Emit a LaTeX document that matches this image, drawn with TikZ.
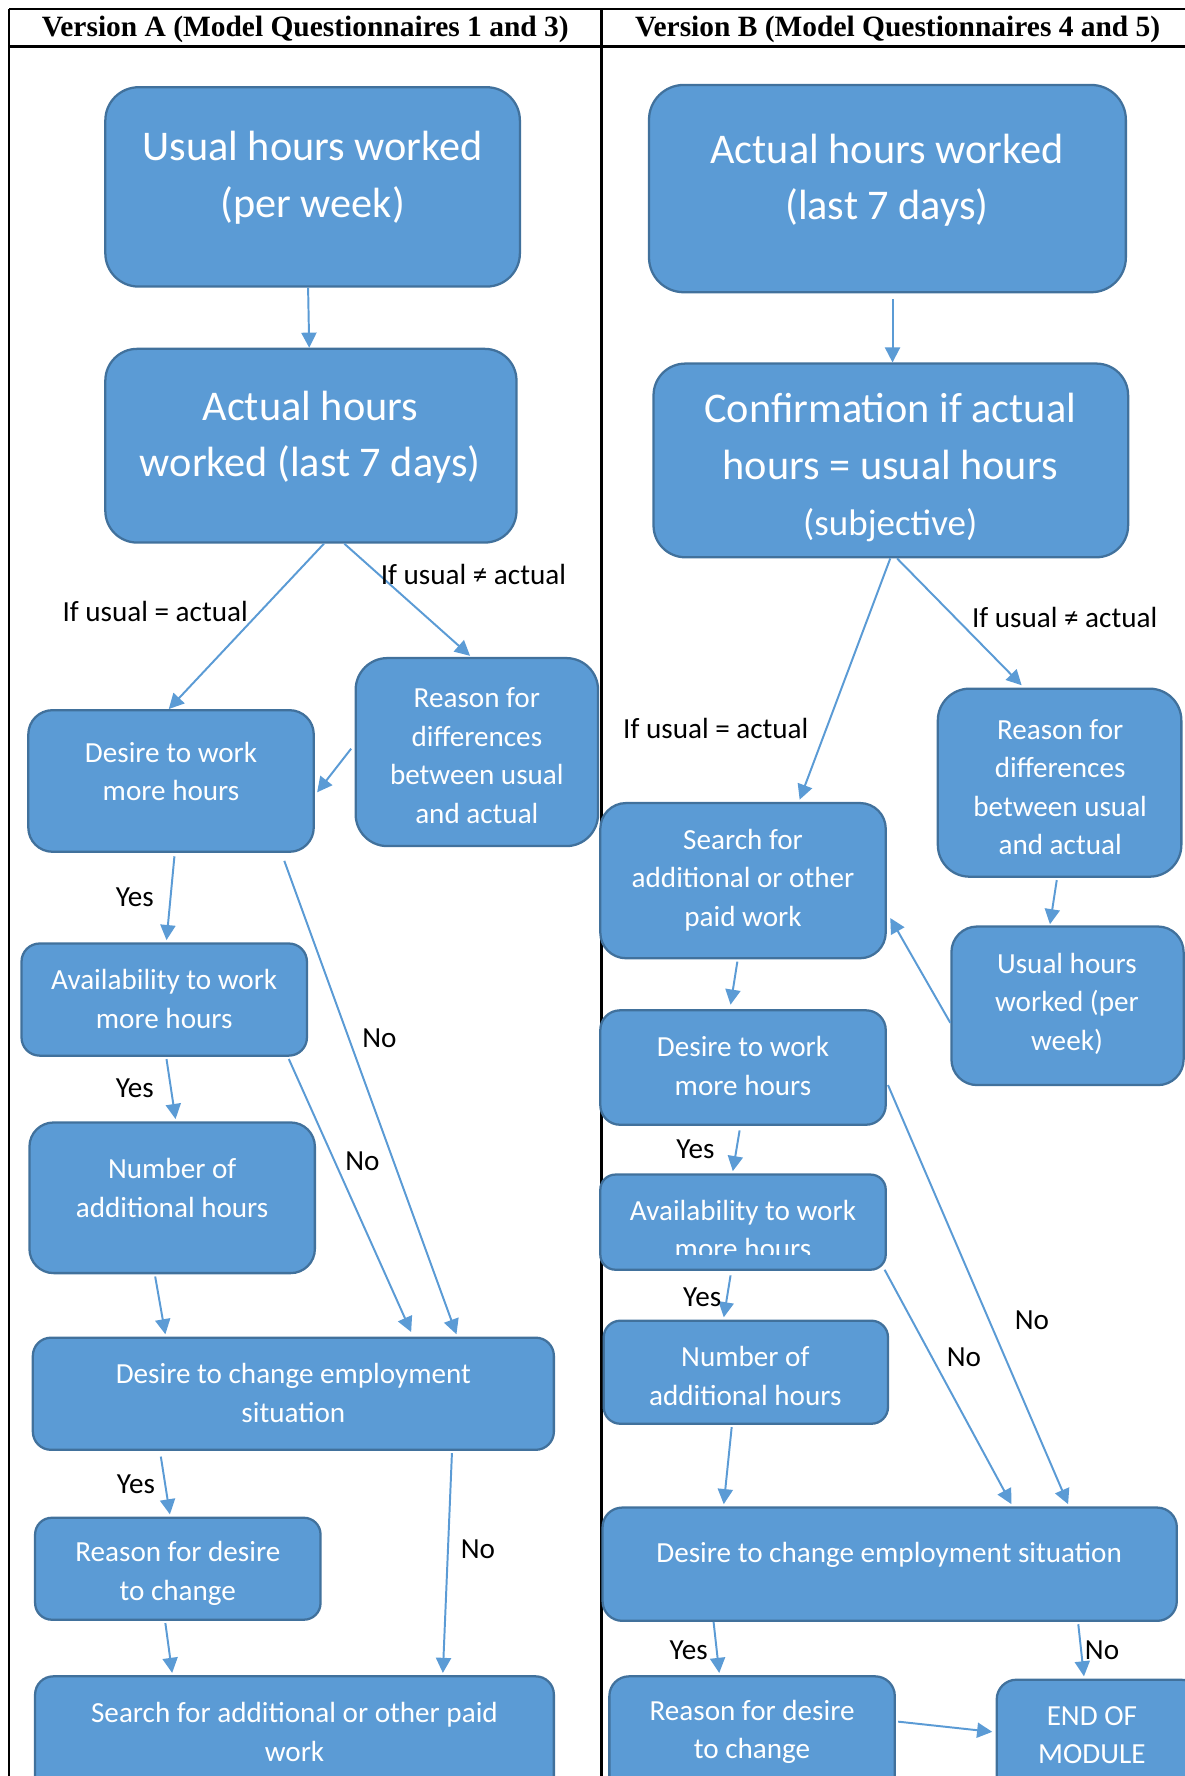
\documentclass[tikz,border=0pt]{standalone}
\usepackage{fontspec}
\setmainfont{Carlito}
\newfontfamily\hdrfont{Liberation Serif}
\usetikzlibrary{arrows.meta,fit,calc}
\definecolor{boxfill}{HTML}{5B9BD5}
\definecolor{boxedge}{HTML}{41719C}
\definecolor{arrowc}{HTML}{5B9BD5}
\newcommand{\bigtxt}{\fontsize{28}{37.5}\selectfont}
\newcommand{\subtxt}{\fontsize{24.5}{35}\selectfont}
\newcommand{\smtxt}{\fontsize{19.3}{25.5}\selectfont}
\newcommand{\lbltxt}{\fontsize{19.3}{23}\selectfont}
\newcommand{\hdrtxt}{\hdrfont\bfseries\fontsize{19.5}{23}\selectfont}
\begin{document}
\begin{tikzpicture}[x=0.75pt,y=-0.75pt,
  box/.style={draw=boxedge, fill=boxfill, line width=1.5pt, inner sep=0pt},
  wt/.style={text=white, align=center, inner sep=0pt},
  bigt/.style={wt, font=\bigtxt},
  smt/.style={wt, font=\smtxt},
  lbl/.style={text=black, inner sep=0pt, font=\lbltxt},
  hdr/.style={text=black, inner sep=0pt, font=\hdrtxt},
  arr/.style={draw=arrowc, line width=1.3pt, -{Triangle[length=10pt,width=10pt]}},
  frame/.style={draw=black, line width=1.6pt}
]
\useasboundingbox (0,0) rectangle (1046,1568);

% ---------- table frame ----------
\coordinate (tl) at (8,8);
\coordinate (tr) at (1060,8);
\coordinate (hl) at (8,41);
\coordinate (hr) at (1060,41);
\coordinate (bl) at (8,1600);
\coordinate (mt) at (531,8);
\coordinate (mb) at (531,1600);
\draw[frame] (tl) -- (tr);
\draw[frame] (hl) -- (hr);
\draw[frame] (tl) -- (bl);
\draw[frame] (mt) -- (mb);
\node[hdr] (hA) at (269.5,26) {Version A (Model Questionnaires 1 and 3)};
\node[hdr] (hB) at (792.5,26) {Version B (Model Questionnaires 4 and 5)};

% ---------- Version A boxes ----------
\node[box, rounded corners=22pt, fit={(93,77) (459,253)}] (A1) {};
\node[bigt] (A1t) at (276,157) {Usual hours worked\\(per week)};
\node[box, rounded corners=21pt, fit={(93,308) (456,479)}] (A2) {};
\node[bigt] (A2t) at (274,386) {Actual hours\\worked (last 7 days)};
\node[box, rounded corners=16pt, fit={(25,627) (277,752)}] (A3) {};
\node[smt] (A3t) at (151,681) {Desire to work\\more hours};
\node[box, rounded corners=21pt, fit={(314,581) (528,747)}] (A4) {};
\node[smt] (A4t) at (421,667) {Reason for\\differences\\between usual\\and actual};
\node[box, rounded corners=12pt, fit={(19,833) (271,932)}] (A5) {};
\node[smt] (A5t) at (145,882) {Availability to work\\more hours};
\node[box, rounded corners=16pt, fit={(26,991) (278,1124)}] (A6) {};
\node[smt] (A6t) at (152,1049) {Number of\\additional hours};
\node[box, rounded corners=12pt, fit={(29,1181) (489,1280)}] (A7) {};
\node[smt] (A7t) at (259,1230) {Desire to change employment\\situation};
\node[box, rounded corners=11pt, fit={(31,1340) (283,1430)}] (A8) {};
\node[smt] (A8t) at (157,1389) {Reason for desire\\to change};
\node[box, rounded corners=12pt, fit={(31,1480) (489,1600)}] (A9) {};
\node[smt] (A9t) at (260,1529) {Search for additional or other paid\\work};

% ---------- Version B boxes ----------
\node[box, rounded corners=23pt, fit={(573,75) (994,258)}] (B1) {};
\node[bigt] (B1t) at (783,159) {Actual hours worked\\(last 7 days)};
\node[box, rounded corners=21pt, fit={(577,321) (996,492)}] (B2) {};
\node[bigt] (B2t) at (786,413) {Confirmation if actual\\hours = usual hours\\{\subtxt (subjective)}};
\node[box, rounded corners=21pt, fit={(828,608) (1043,774)}] (B3) {};
\node[smt] (B3t) at (936,695) {Reason for\\differences\\between usual\\and actual};
\node[box, rounded corners=17pt, fit={(530,709) (782,846)}] (B4) {};
\node[smt] (B4t) at (656,777) {Search for\\additional or other\\paid work};
\node[box, rounded corners=17pt, fit={(840,818) (1045,958)}] (B5) {};
\node[smt] (B5t) at (942,886) {Usual hours\\worked (per\\week)};
\node[box, rounded corners=13pt, fit={(530,892) (782,993)}] (B6) {};
\node[smt] (B6t) at (656,941) {Desire to work\\more hours};
\node[box, rounded corners=10pt, fit={(530,1037) (782,1121)}] (B7) {};
\begin{scope}
\clip (530,1037) rectangle (782,1108);
\node[smt] (B7t) at (656,1085.5) {Availability to work\\more hours};
\end{scope}
\node[box, rounded corners=11pt, fit={(533,1166) (784,1257)}] (B8) {};
\node[smt] (B8t) at (658,1215) {Number of\\additional hours};
\node[box, rounded corners=13pt, fit={(532,1331) (1039,1431)}] (B9) {};
\node[smt] (B9t) at (785,1373) {Desire to change employment situation};
\node[box, rounded corners=13pt, fit={(538,1480) (790,1600)}] (B10) {};
\node[smt] (B10t) at (664,1529) {Reason for desire\\to change};
\node[box, rounded corners=13pt, fit={(880,1483) (1060,1600)}] (B11) {};
\node[smt] (B11t) at (964,1532) {END OF\\MODULE};

% ---------- Version A connectors ----------
\draw[arr] ($(A1.south west)+(180,0)$) -- ($(A2.north west)+(181,0)$);
\draw[arr] ($(A2.south west)+(194,0)$) -- ($(A3.north west)+(125,0)$);
\draw[arr] ($(A2.south west)+(212,0)$) -- ($(A4.north west)+(102,-1)$);
\draw[arr] ($(A4.west)+(-3,-3)$) -- ($(A3.east)+(2,10)$);
\draw[arr] ($(A3.south west)+(130,3)$) -- ($(A5.north west)+(129,-2)$);
\draw[arr] ($(A3.south west)+(227,7)$) -- ($(A7.north west)+(375,-2)$);
\draw[arr] ($(A5.south west)+(129,2)$) -- ($(A6.north west)+(130,-2)$);
\draw[arr] ($(A5.south west)+(237,2)$) -- ($(A7.north west)+(335,-4)$);
\draw[arr] ($(A6.south west)+(112,2)$) -- ($(A7.north west)+(118,-2)$);
\draw[arr] ($(A7.south west)+(114,5)$) -- ($(A8.north west)+(120,-2)$);
\draw[arr] ($(A7.south west)+(371,2)$) -- ($(A9.north west)+(361,-2)$);
\draw[arr] ($(A8.south west)+(116,2)$) -- ($(A9.north west)+(122,-2)$);

\node[lbl] (LA1) at (137,540) {If usual = actual};
\node[lbl] (LA2) at (418,507) {If usual ≠ actual};
\node[lbl] (LA3) at (119,792) {Yes};
\node[lbl] (LA4) at (335,917) {No};
\node[lbl] (LA5) at (119,961) {Yes};
\node[lbl] (LA6) at (320,1025) {No};
\node[lbl] (LA7) at (120,1310) {Yes};
\node[lbl] (LA8) at (422,1368) {No};

% ---------- Version B connectors ----------
\draw[arr] ($(B1.south west)+(216,5)$) -- ($(B2.north west)+(212,0)$);
\draw[arr] ($(B2.south west)+(210,0)$) -- ($(B4.north west)+(177,-2)$);
\draw[arr] ($(B2.south west)+(216,0)$) -- ($(B3.north west)+(75,-2)$);
\draw[arr] ($(B3.south west)+(106,2)$) -- ($(B5.north west)+(88,-1)$);
\draw[arr] ($(B5.west)+(0,15)$) -- ($(B4.east)+(3,33)$);
\draw[arr] ($(B4.south west)+(122,2)$) -- ($(B6.north west)+(116,-4)$);
\draw[arr] ($(B6.south west)+(124,4)$) -- ($(B7.north west)+(118,-2)$);
\draw[arr] ($(B6.east)+(1,15.5)$) -- ($(B9.north west)+(412,-2)$);
\draw[arr] ($(B7.south west)+(116,4)$) -- ($(B8.north west)+(107,-2)$);
\draw[arr] ($(B7.south east)+(-2,-1)$) -- ($(B9.north west)+(362,-2)$);
\draw[arr] ($(B8.south west)+(114,2)$) -- ($(B9.north west)+(108,-2)$);
\draw[arr] ($(B9.south west)+(99,0)$) -- ($(B10.north west)+(98,-2)$);
\draw[arr] ($(B9.south west)+(421,2)$) -- ($(B11.north west)+(78,-2)$);
\draw[arr] ($(B10.north east)+(2,41)$) -- ($(B11.north west)+(-3,47)$);

\node[lbl] (LB1) at (632,643) {If usual = actual};
\node[lbl] (LB2) at (940,545) {If usual ≠ actual};
\node[lbl] (LB3) at (614,1015) {Yes};
\node[lbl] (LB4) at (911,1166) {No};
\node[lbl] (LB5) at (620,1145) {Yes};
\node[lbl] (LB6) at (851,1198) {No};
\node[lbl] (LB7) at (608,1457) {Yes};
\node[lbl] (LB8) at (973,1457) {No};
\end{tikzpicture}
\end{document}
